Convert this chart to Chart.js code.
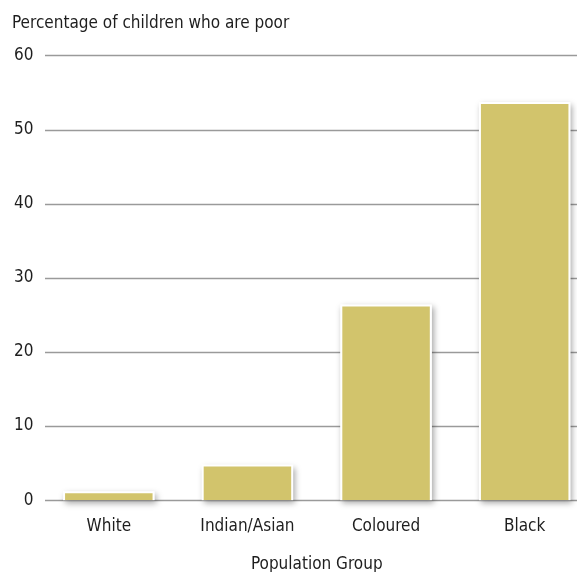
<!DOCTYPE html>
<html>
<head>
<meta charset="utf-8">
<script src="https://cdn.jsdelivr.net/npm/chart.js@4.4.1/dist/chart.umd.min.js"></script>
<style>
  html, body { margin: 0; padding: 0; background: #fff; overflow: hidden; }
  #wrap { width: 600px; height: 572px; position: relative; }
</style>
</head>
<body>
<div id="wrap"><canvas id="c"></canvas></div>
<script>
const categories = ["White", "Indian/Asian", "Coloured", "Black"];
const poorPercent = [1.2, 4.8, 26.4, 53.7];
const yTicks = [0, 10, 20, 30, 40, 50, 60];
const yTitle = "Percentage of children who are poor";
const xTitle = "Population Group";

const FONT = '"Liberation Sans Narrow", "DejaVu Sans Condensed", "Roboto", sans-serif';

const gridPlugin = {
  id: 'gridLines',
  beforeDatasetsDraw(chart) {
    const y = chart.scales.y, ctx = chart.ctx;
    ctx.save();
    ctx.strokeStyle = '#9a9a9a';
    ctx.lineWidth = 1.5;
    yTicks.forEach(v => {
      const py = Math.round(y.getPixelForValue(v)) + 0.5;
      ctx.beginPath();
      ctx.moveTo(45, py);
      ctx.lineTo(chart.width, py);
      ctx.stroke();
    });
    const meta = chart.getDatasetMeta(0);
    ctx.shadowColor = 'rgba(0,0,0,0.35)';
    ctx.shadowBlur = 6;
    ctx.shadowOffsetX = 2;
    ctx.shadowOffsetY = 3;
    ctx.fillStyle = '#ffffff';
    meta.data.forEach(b => {
      const p = b.getProps(['x', 'y', 'base', 'width'], true);
      ctx.fillRect(p.x - p.width / 2, p.y, p.width, p.base - p.y);
    });
    ctx.restore();
  }
};

new Chart(document.getElementById('c'), {
  type: 'bar',
  data: {
    labels: categories,
    datasets: [{
      data: poorPercent,
      backgroundColor: '#d2c46c',
      borderColor: '#ffffff',
      borderWidth: 2,
      borderSkipped: 'start',
      barPercentage: 0.66,
      categoryPercentage: 1.0
    }]
  },
  options: {
    responsive: true,
    maintainAspectRatio: false,
    animation: false,
    layout: { padding: { left: 12, right: 6, top: 13, bottom: -3 } },
    plugins: {
      legend: { display: false },
      tooltip: { enabled: false },
      title: {
        display: true,
        text: yTitle,
        align: 'start',
        color: '#1e1e1e',
        font: { family: FONT, size: 17, weight: 'normal' },
        padding: { top: 0, bottom: 22 }
      }
    },
    scales: {
      x: {
        grid: { display: false, drawTicks: false },
        border: { display: false },
        ticks: { color: '#1e1e1e', font: { family: FONT, size: 17 }, padding: 16 },
        title: { display: true, text: xTitle, color: '#1e1e1e', font: { family: FONT, size: 17 }, padding: { top: 2, bottom: 0 } }
      },
      y: {
        min: 0, max: 60,
        afterBuildTicks(scale) { scale.ticks = yTicks.map(v => ({ value: v })); },
        afterFit(scale) { scale.width = 27.5; },
        grid: { display: false, drawTicks: false },
        border: { display: false },
        ticks: { color: '#1e1e1e', font: { family: FONT, size: 17 }, padding: 6 }
      }
    }
  },
  plugins: [gridPlugin]
});
</script>
</body>
</html>
